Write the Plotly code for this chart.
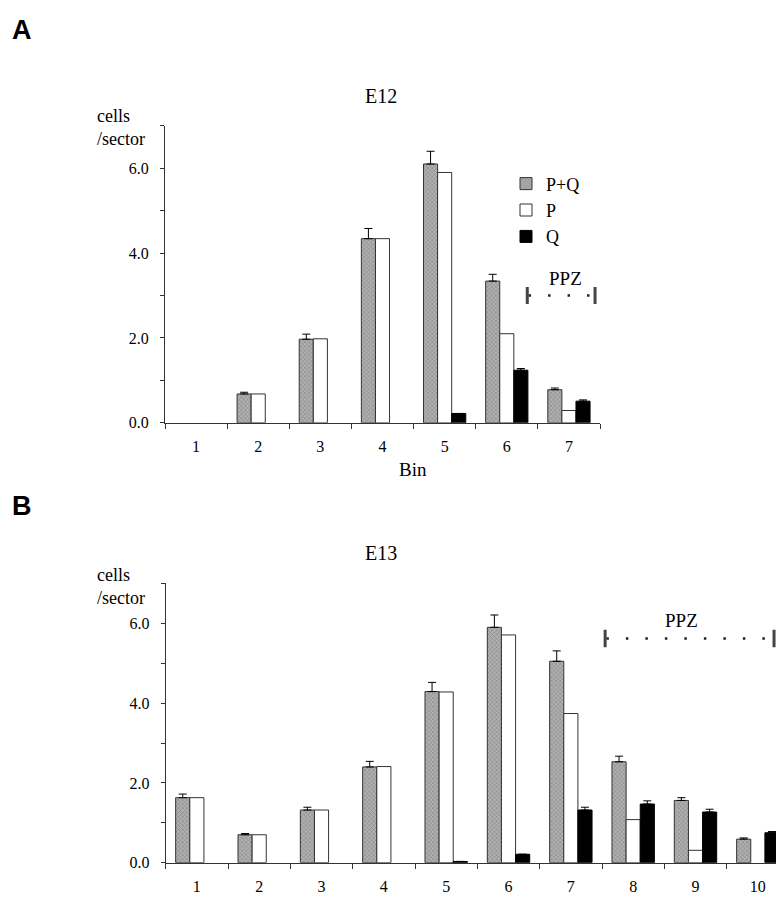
import plotly.graph_objects as go

# ---------------- data ----------------
bins_a = ["1", "2", "3", "4", "5", "6", "7"]
pq_a = [0, 0.68, 1.97, 4.34, 6.10, 3.34, 0.78]
pq_err_a = [None, 0.04, 0.12, 0.24, 0.30, 0.16, 0.04]
p_a = [0, 0.68, 1.98, 4.34, 5.90, 2.10, 0.29]
q_a = [0, 0, 0, 0, 0.22, 1.24, 0.51]
q_err_a = [None, None, None, None, None, 0.04, 0.03]

bins_b = ["1", "2", "3", "4", "5", "6", "7", "8", "9", "10"]
pq_b = [1.63, 0.70, 1.32, 2.40, 4.29, 5.90, 5.05, 2.53, 1.56, 0.59]
pq_err_b = [0.09, 0.03, 0.07, 0.14, 0.23, 0.31, 0.26, 0.14, 0.07, 0.03]
p_b = [1.63, 0.70, 1.32, 2.41, 4.28, 5.71, 3.74, 1.08, 0.31, 0]
q_b = [0, 0, 0, 0, 0.03, 0.21, 1.32, 1.47, 1.27, 0.75]
q_err_b = [None, None, None, None, None, None, 0.07, 0.08, 0.07, 0.03]

series_names = ["P+Q", "P", "Q"]
ytick_vals = [0, 1, 2, 3, 4, 5, 6, 7]
ytick_text = ["0.0", "", "2.0", "", "4.0", "", "6.0", ""]

# ---------------- styling ----------------
W, H = 784, 900
SERIF = "Liberation Serif, Times New Roman, serif"
SANS = "Liberation Sans, Arial, sans-serif"


def px(xp):
    return xp / W


def py(yp):
    return 1 - yp / H


def nz(vals):
    # zero-height bars are not drawn in the original
    return [v if v > 0 else None for v in vals]


gray_marker = dict(color="#a8a8a8",
                   pattern=dict(shape="x", fgcolor="#5a5a5a", bgcolor="#b0b0b0",
                                size=3, solidity=0.35),
                   line=dict(color="#333333", width=1))
white_marker = dict(color="white", line=dict(color="#333333", width=1))
black_marker = dict(color="black", line=dict(color="black", width=1))


def err(vals):
    return dict(type="data", symmetric=False,
                array=[v if v is not None else float("nan") for v in vals],
                arrayminus=[0 if v is not None else float("nan") for v in vals],
                color="black", thickness=1, width=4)


fig = go.Figure()

# Panel A
fig.add_trace(go.Bar(x=bins_a, y=nz(pq_a), name=series_names[0], marker=gray_marker,
                     error_y=err(pq_err_a), xaxis="x", yaxis="y", legendrank=1))
fig.add_trace(go.Bar(x=bins_a, y=nz(p_a), name=series_names[1], marker=white_marker,
                     xaxis="x", yaxis="y", legendrank=2))
fig.add_trace(go.Bar(x=bins_a, y=nz(q_a), name=series_names[2], marker=black_marker,
                     error_y=err(q_err_a), xaxis="x", yaxis="y", legendrank=3))
# Panel B
fig.add_trace(go.Bar(x=bins_b, y=nz(pq_b), name=series_names[0], marker=gray_marker,
                     error_y=err(pq_err_b), xaxis="x2", yaxis="y2", showlegend=False))
fig.add_trace(go.Bar(x=bins_b, y=nz(p_b), name=series_names[1], marker=white_marker,
                     xaxis="x2", yaxis="y2", showlegend=False))
fig.add_trace(go.Bar(x=bins_b, y=nz(q_b), name=series_names[2], marker=black_marker,
                     error_y=err(q_err_b), xaxis="x2", yaxis="y2", showlegend=False))

xaxis_common = dict(type="category", tickson="boundaries", ticks="outside", ticklen=5,
                    tickcolor="#333", showline=True, linecolor="#333", linewidth=1,
                    showgrid=False, zeroline=False, ticklabelstandoff=9,
                    tickfont=dict(family=SERIF, size=16, color="black"))
yaxis_common = dict(range=[0, 7], tickvals=ytick_vals, ticktext=ytick_text,
                    ticks="outside", ticklen=4, tickcolor="#333", showline=True,
                    linecolor="#333", linewidth=1, showgrid=False, zeroline=False,
                    ticklabelstandoff=8,
                    tickfont=dict(family=SERIF, size=16, color="black"))

fig.update_layout(
    width=W, height=H,
    margin=dict(l=0, r=0, t=0, b=0),
    paper_bgcolor="white", plot_bgcolor="white",
    barmode="group", bargap=0.32, bargroupgap=0,
    xaxis=dict(domain=[px(157), px(592)], anchor="y", range=[-0.5, 6.5],
               categoryorder="array", categoryarray=bins_a, **xaxis_common),
    yaxis=dict(domain=[py(419), py(119)], anchor="x", **yaxis_common),
    xaxis2=dict(domain=[px(157.7), px(781)], anchor="y2", range=[-0.5, 9.5],
                categoryorder="array", categoryarray=bins_b, **xaxis_common),
    yaxis2=dict(domain=[py(863.3), py(581.3)], anchor="x2", **yaxis_common),
    legend=dict(x=px(498), y=py(159), xanchor="left", yanchor="top",
                font=dict(family=SERIF, size=18, color="black"),
                bgcolor="rgba(0,0,0,0)", itemwidth=30, tracegroupgap=0,
                traceorder="normal"),
    showlegend=True,
)

ann = []
ann.append(dict(text="<b>A</b>", x=px(2), y=py(22), xref="paper", yref="paper",
                xanchor="left", yanchor="middle", showarrow=False,
                font=dict(family=SANS, size=27, color="black")))
ann.append(dict(text="<b>B</b>", x=px(2), y=py(503), xref="paper", yref="paper",
                xanchor="left", yanchor="middle", showarrow=False,
                font=dict(family=SANS, size=27, color="black")))
ann.append(dict(text="E12", x=px(372.5), y=py(89), xref="paper", yref="paper",
                xanchor="center", yanchor="middle", showarrow=False,
                font=dict(family=SERIF, size=20, color="black")))
ann.append(dict(text="E13", x=px(372.5), y=py(550), xref="paper", yref="paper",
                xanchor="center", yanchor="middle", showarrow=False,
                font=dict(family=SERIF, size=20, color="black")))
ann.append(dict(text="Bin", x=px(405), y=py(466), xref="paper", yref="paper",
                xanchor="center", yanchor="middle", showarrow=False,
                font=dict(family=SERIF, size=19, color="black")))
for mid in (121, 584):
    ann.append(dict(text="cells<br>/sector", x=px(88), y=py(mid), xref="paper",
                    yref="paper", xanchor="left", yanchor="middle", align="left",
                    showarrow=False, borderpad=0,
                    font=dict(family=SERIF, size=18, color="black")))
ann.append(dict(text="PPZ", x=5.94, y=3.41, xref="x", yref="y", xanchor="center",
                yanchor="middle", showarrow=False,
                font=dict(family=SERIF, size=19, color="black")))
ann.append(dict(text="PPZ", x=7.77, y=6.08, xref="x2", yref="y2", xanchor="center",
                yanchor="middle", showarrow=False,
                font=dict(family=SERIF, size=19, color="black")))
fig.update_layout(annotations=ann)

# PPZ span markers (dotted line with end caps)
shapes = []
for xr, yr, x0, x1, yc, hh in (("x", "y", 5.33, 6.42, 3.0, 0.2),
                               ("x2", "y2", 6.55, 9.26, 5.62, 0.22)):
    shapes.append(dict(type="line", xref=xr, yref=yr, x0=x0 + 0.02, x1=x1, y0=yc, y1=yc,
                       line=dict(color="#222", width=2.5, dash="2.5px,17px")))
    for xc in (x0, x1):
        shapes.append(dict(type="line", xref=xr, yref=yr, x0=xc, x1=xc,
                           y0=yc - hh, y1=yc + hh,
                           line=dict(color="#444", width=3)))
fig.update_layout(shapes=shapes)

fig.write_html("out.html")
